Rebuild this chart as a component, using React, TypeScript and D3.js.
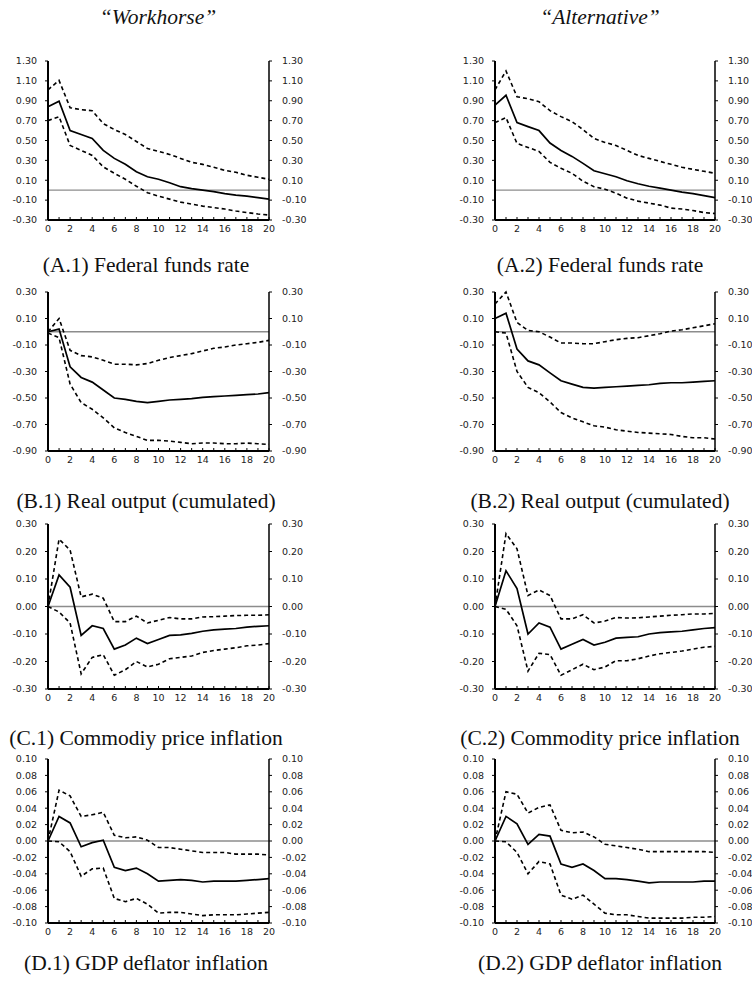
import * as d3 from "d3";

// horizons (quarters)
const horizons = d3.range(0, 21);

// (A) Federal funds rate
const ffrWorkMid = [0.84, 0.895, 0.6, 0.56, 0.52, 0.4, 0.32, 0.26, 0.185, 0.135, 0.11, 0.075, 0.035, 0.015, 0.0, -0.015, -0.035, -0.05, -0.06, -0.075, -0.09];
const ffrWorkUp = [1.01, 1.105, 0.83, 0.81, 0.8, 0.67, 0.61, 0.56, 0.49, 0.42, 0.39, 0.36, 0.32, 0.28, 0.26, 0.23, 0.2, 0.18, 0.15, 0.13, 0.11];
const ffrWorkLo = [0.7, 0.74, 0.45, 0.4, 0.35, 0.235, 0.17, 0.11, 0.04, -0.025, -0.06, -0.09, -0.12, -0.14, -0.16, -0.175, -0.19, -0.21, -0.225, -0.24, -0.25];
const ffrAltMid = [0.855, 0.955, 0.68, 0.64, 0.6, 0.475, 0.4, 0.34, 0.27, 0.195, 0.165, 0.135, 0.095, 0.065, 0.04, 0.02, 0.0, -0.02, -0.035, -0.055, -0.075];
const ffrAltUp = [1.01, 1.2, 0.94, 0.92, 0.89, 0.8, 0.74, 0.69, 0.61, 0.52, 0.48, 0.45, 0.4, 0.35, 0.32, 0.29, 0.26, 0.23, 0.21, 0.19, 0.17];
const ffrAltLo = [0.68, 0.73, 0.47, 0.43, 0.39, 0.28, 0.22, 0.17, 0.09, 0.035, 0.01, -0.03, -0.08, -0.11, -0.13, -0.15, -0.18, -0.19, -0.205, -0.225, -0.235];

// (B) Real output (cumulated)
const gdpWorkMid = [0.0, 0.02, -0.265, -0.345, -0.38, -0.44, -0.5, -0.51, -0.525, -0.535, -0.525, -0.515, -0.51, -0.505, -0.495, -0.49, -0.485, -0.48, -0.475, -0.47, -0.46];
const gdpWorkUp = [0.0, 0.1, -0.14, -0.18, -0.19, -0.215, -0.245, -0.245, -0.25, -0.24, -0.215, -0.195, -0.18, -0.165, -0.145, -0.125, -0.115, -0.1, -0.09, -0.08, -0.065];
const gdpWorkLo = [-0.01, -0.045, -0.395, -0.535, -0.585, -0.65, -0.725, -0.76, -0.79, -0.82, -0.82, -0.825, -0.835, -0.845, -0.84, -0.84, -0.845, -0.845, -0.84, -0.845, -0.85];
const gdpAltMid = [0.1, 0.14, -0.13, -0.22, -0.25, -0.31, -0.37, -0.395, -0.42, -0.425, -0.42, -0.415, -0.41, -0.405, -0.4, -0.39, -0.385, -0.385, -0.38, -0.375, -0.37];
const gdpAltUp = [0.21, 0.3, 0.07, 0.01, 0.0, -0.04, -0.085, -0.085, -0.09, -0.09, -0.075, -0.06, -0.05, -0.045, -0.03, -0.015, 0.005, 0.015, 0.03, 0.045, 0.06];
const gdpAltLo = [0.0, -0.01, -0.3, -0.42, -0.46, -0.53, -0.61, -0.65, -0.68, -0.71, -0.72, -0.74, -0.75, -0.76, -0.765, -0.77, -0.775, -0.79, -0.8, -0.8, -0.81];

// (C) Commodity price inflation
const cpWorkMid = [0.0, 0.115, 0.07, -0.105, -0.07, -0.08, -0.155, -0.14, -0.115, -0.135, -0.12, -0.105, -0.103, -0.098, -0.09, -0.085, -0.082, -0.08, -0.075, -0.072, -0.07];
const cpWorkUp = [0.0, 0.245, 0.205, 0.035, 0.045, 0.03, -0.055, -0.055, -0.035, -0.06, -0.05, -0.04, -0.045, -0.045, -0.038, -0.037, -0.035, -0.033, -0.032, -0.032, -0.03];
const cpWorkLo = [0.0, -0.02, -0.06, -0.245, -0.185, -0.175, -0.25, -0.23, -0.2, -0.22, -0.21, -0.19, -0.185, -0.18, -0.167, -0.16, -0.155, -0.15, -0.143, -0.14, -0.135];
const cpAltMid = [0.0, 0.13, 0.065, -0.1, -0.06, -0.075, -0.155, -0.137, -0.12, -0.14, -0.13, -0.115, -0.112, -0.11, -0.1, -0.095, -0.092, -0.09, -0.085, -0.08, -0.077];
const cpAltUp = [0.0, 0.265, 0.21, 0.04, 0.06, 0.04, -0.045, -0.045, -0.03, -0.06, -0.053, -0.04, -0.042, -0.041, -0.038, -0.035, -0.032, -0.03, -0.027, -0.027, -0.025];
const cpAltLo = [0.0, -0.01, -0.07, -0.235, -0.17, -0.175, -0.25, -0.23, -0.21, -0.23, -0.22, -0.197, -0.197, -0.19, -0.18, -0.172, -0.167, -0.162, -0.155, -0.148, -0.145];

// (D) GDP deflator inflation
const defWorkMid = [0.0, 0.03, 0.022, -0.007, -0.002, 0.001, -0.032, -0.036, -0.033, -0.04, -0.049, -0.048, -0.047, -0.048, -0.05, -0.049, -0.049, -0.049, -0.048, -0.047, -0.046];
const defWorkUp = [0.0, 0.062, 0.055, 0.03, 0.032, 0.035, 0.007, 0.004, 0.005, 0.001, -0.008, -0.008, -0.01, -0.012, -0.014, -0.014, -0.014, -0.016, -0.016, -0.016, -0.017];
const defWorkLo = [0.0, -0.001, -0.013, -0.043, -0.034, -0.033, -0.07, -0.074, -0.07, -0.077, -0.088, -0.087, -0.087, -0.089, -0.091, -0.09, -0.09, -0.09, -0.089, -0.088, -0.087];
const defAltMid = [0.0, 0.03, 0.021, -0.004, 0.008, 0.006, -0.028, -0.032, -0.028, -0.036, -0.046, -0.046, -0.047, -0.049, -0.051, -0.05, -0.05, -0.05, -0.05, -0.049, -0.049];
const defAltUp = [0.0, 0.06, 0.057, 0.034, 0.041, 0.044, 0.013, 0.01, 0.011, 0.005, -0.004, -0.006, -0.008, -0.01, -0.013, -0.013, -0.013, -0.013, -0.013, -0.013, -0.014];
const defAltLo = [0.0, -0.001, -0.014, -0.04, -0.025, -0.028, -0.066, -0.071, -0.066, -0.077, -0.088, -0.09, -0.09, -0.092, -0.094, -0.094, -0.094, -0.094, -0.093, -0.093, -0.092];

// y tick values per row
const ffrTicks = [-0.3, -0.1, 0.1, 0.3, 0.5, 0.7, 0.9, 1.1, 1.3];
const gdpTicks = [-0.9, -0.7, -0.5, -0.3, -0.1, 0.1, 0.3];
const cpTicks = [-0.3, -0.2, -0.1, 0.0, 0.1, 0.2, 0.3];
const defTicks = [-0.1, -0.08, -0.06, -0.04, -0.02, 0.0, 0.02, 0.04, 0.06, 0.08, 0.1];
const xTickLabels = [0, 2, 4, 6, 8, 10, 12, 14, 16, 18, 20];

const columnTitles = ["\u201CWorkhorse\u201D", "\u201CAlternative\u201D"];

const rows = [
  { ticks: ffrTicks, top: 61, bottom: 220, capY: 272, caps: ["(A.1) Federal funds rate", "(A.2) Federal funds rate"], series: [[ffrWorkMid, ffrWorkUp, ffrWorkLo], [ffrAltMid, ffrAltUp, ffrAltLo]] },
  { ticks: gdpTicks, top: 292, bottom: 451, capY: 508, caps: ["(B.1) Real output (cumulated)", "(B.2) Real output (cumulated)"], series: [[gdpWorkMid, gdpWorkUp, gdpWorkLo], [gdpAltMid, gdpAltUp, gdpAltLo]] },
  { ticks: cpTicks, top: 524, bottom: 689, capY: 745, caps: ["(C.1) Commodiy price inflation", "(C.2) Commodity price inflation"], series: [[cpWorkMid, cpWorkUp, cpWorkLo], [cpAltMid, cpAltUp, cpAltLo]] },
  { ticks: defTicks, top: 759, bottom: 923, capY: 970, caps: ["(D.1) GDP deflator inflation", "(D.2) GDP deflator inflation"], series: [[defWorkMid, defWorkUp, defWorkLo], [defAltMid, defAltUp, defAltLo]] },
];

const cols = [
  { left: 48, right: 269, capX: 146, titleX: 158 },
  { left: 495, right: 715, capX: 600, titleX: 600 },
];

const tickFont = "'DejaVu Sans', Verdana, sans-serif";
const serif = "'Liberation Serif', 'Times New Roman', serif";

function Panel({ row, col, data, caption }: any) {
  const ticks: number[] = row.ticks;
  const x = d3.scaleLinear().domain([0, 20]).range([col.left, col.right]);
  const y = d3
    .scaleLinear()
    .domain([ticks[0], ticks[ticks.length - 1]])
    .range([row.bottom, row.top]);
  const line = d3
    .line<number>()
    .x((_, i) => x(horizons[i]))
    .y((d) => y(d));

  return (
    <g>
      {/* zero line */}
      <line x1={col.left} x2={col.right} y1={y(0)} y2={y(0)} stroke="#8c8c8c" strokeWidth={1.3} />
      <path d={line(data[1]) || ""} fill="none" stroke="#000" strokeWidth={1.6} strokeDasharray="4,3" />
      <path d={line(data[2]) || ""} fill="none" stroke="#000" strokeWidth={1.6} strokeDasharray="4,3" />
      <path d={line(data[0]) || ""} fill="none" stroke="#000" strokeWidth={1.7} />

      {/* axes */}
      <line x1={col.left} x2={col.left} y1={row.top} y2={row.bottom} stroke="#000" strokeWidth={2} />
      <line x1={col.right} x2={col.right} y1={row.top} y2={row.bottom} stroke="#000" strokeWidth={1.5} />
      <line x1={col.left} x2={col.right} y1={row.bottom} y2={row.bottom} stroke="#000" strokeWidth={2} />

      {horizons.map((h) => (
        <line key={"xt" + h} x1={x(h)} x2={x(h)} y1={row.bottom} y2={row.bottom - 3} stroke="#000" strokeWidth={1} />
      ))}
      {xTickLabels.map((h) => (
        <text key={"xl" + h} x={x(h)} y={row.bottom + 12} textAnchor="middle" fontFamily={tickFont} fontSize={9.5} fill="#222">
          {h}
        </text>
      ))}

      {ticks.map((t) => (
        <g key={"yt" + t}>
          <line x1={col.left - 3} x2={col.left} y1={y(t)} y2={y(t)} stroke="#000" strokeWidth={1} />
          <line x1={col.right} x2={col.right + 3} y1={y(t)} y2={y(t)} stroke="#000" strokeWidth={1} />
          <text x={col.left - 11} y={y(t)} dy="0.35em" textAnchor="end" fontFamily={tickFont} fontSize={9.5} fill="#222">
            {t.toFixed(2)}
          </text>
          <text x={col.right + 13} y={y(t)} dy="0.35em" textAnchor="start" fontFamily={tickFont} fontSize={9.5} fill="#222">
            {t.toFixed(2)}
          </text>
        </g>
      ))}

      <text x={col.capX} y={row.capY} textAnchor="middle" fontFamily={serif} fontSize={21.5} fill="#111">
        {caption}
      </text>
    </g>
  );
}

export default function App() {
  return (
    <div style={{ position: "absolute", left: 0, top: 0 }}>
      <svg width={752} height={984} style={{ display: "block", background: "#fff" }}>
        {cols.map((c, ci) => (
          <text key={"t" + ci} x={c.titleX} y={24} textAnchor="middle" fontFamily={serif} fontStyle="italic" fontSize={21.5} fill="#111">
            {columnTitles[ci]}
          </text>
        ))}
        {rows.map((r, ri) =>
          cols.map((c, ci) => (
            <Panel key={ri + "-" + ci} row={r} col={c} data={r.series[ci]} caption={r.caps[ci]} />
          ))
        )}
      </svg>
    </div>
  );
}
